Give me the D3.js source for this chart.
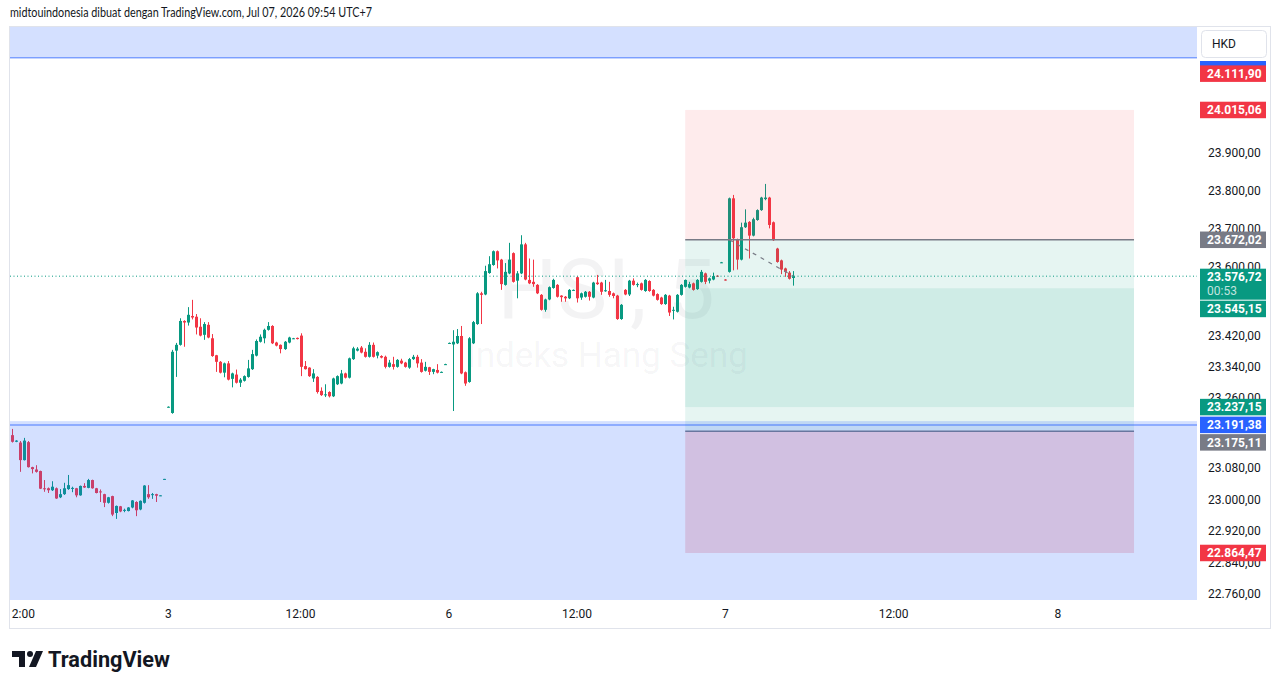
<!DOCTYPE html>
<html><head><meta charset="utf-8">
<script src="https://cdn.jsdelivr.net/npm/d3@7"></script>
<style>html,body{margin:0;padding:0;background:#fff;}svg{display:block;}</style>
</head><body>
<svg id="chart" width="1281" height="688"></svg>
<script>
// ---------------- DATA ----------------
// 5-minute bars, index 0 = first visible bar (Jul 2 afternoon)
const opens = [
23165,23148,23146,23101,23147,23083,23077,23073,23029,23029,23024,23029,23006,23014,23027,23029,23029,23011,23035,23030,
23050,23029,23021,23014,22992,23009,22966,22983,22972,22971,22980,22994,22975,22992,23014,23012,23014,23010,23052,23237,
23222,23383,23398,23460,23456,23473,23471,23445,23424,23450,23415,23371,23354,23326,23350,23310,23321,23300,23305,23315,
23335,23370,23406,23415,23437,23447,23404,23398,23387,23404,23414,23416,23422,23343,23339,23311,23315,23279,23268,23276,
23265,23296,23298,23324,23313,23361,23383,23391,23380,23367,23398,23370,23369,23367,23341,23348,23341,23357,23352,23339,
23361,23367,23352,23331,23340,23328,23333,23327,23347,23402,23399,23402,23421,23327,23302,23402,23452,23532,23529,23585,
23606,23642,23620,23554,23584,23637,23565,23584,23660,23567,23562,23554,23528,23489,23516,23546,23554,23526,23523,23519,
23540,23574,23521,23523,23536,23521,23560,23560,23538,23538,23532,23526,23465,23541,23529,23565,23555,23558,23538,23564,
23541,23530,23521,23504,23526,23487,23484,23528,23549,23547,23558,23543,23562,23584,23565,23568,23578,23612,23568,23588,
23781,23673,23620,23705,23719,23683,23724,23750,23779,23783,23718,23649,23618,23597,23586,23572];
const highs = [
23181,23152,23150,23158,23150,23084,23088,23074,23050,23031,23047,23031,23027,23043,23063,23033,23030,23036,23042,23053,
23051,23030,23026,23015,23007,23010,22985,22984,22977,22981,22999,22996,22998,23037,23037,23017,23015,23011,23053,23239,
23385,23403,23467,23462,23496,23515,23478,23467,23457,23457,23426,23372,23356,23352,23356,23326,23334,23312,23319,23359,
23385,23412,23425,23440,23457,23449,23406,23399,23408,23419,23416,23417,23428,23356,23340,23335,23317,23288,23296,23278,
23313,23319,23333,23326,23365,23393,23392,23395,23389,23405,23404,23381,23371,23370,23359,23367,23361,23362,23354,23364,
23372,23372,23361,23354,23341,23336,23348,23329,23349,23404,23436,23439,23447,23329,23418,23460,23535,23536,23604,23629,
23644,23644,23622,23611,23664,23639,23590,23684,23664,23623,23620,23556,23530,23518,23550,23570,23556,23527,23525,23543,
23542,23576,23534,23538,23538,23562,23580,23562,23567,23562,23534,23528,23504,23543,23567,23571,23560,23560,23569,23566,
23543,23532,23523,23530,23528,23497,23530,23556,23568,23562,23560,23569,23593,23586,23573,23586,23579,23614,23569,23783,
23790,23675,23717,23752,23721,23730,23752,23785,23819,23785,23720,23651,23620,23599,23590,23590];
const lows = [
23146,23147,23071,23100,23082,23067,23069,23027,23020,23017,23022,23002,23004,23012,23025,23019,23006,23010,23030,23029,
23028,23016,22994,22981,22990,22958,22951,22968,22968,22970,22978,22958,22973,22990,23002,23002,22994,23009,23051,23236,
23220,23315,23396,23393,23448,23464,23425,23420,23411,23415,23367,23328,23324,23314,23306,23288,23298,23289,23303,23313,
23333,23368,23404,23402,23435,23400,23394,23376,23385,23402,23413,23412,23317,23334,23315,23302,23272,23266,23263,23262,
23263,23294,23296,23311,23311,23359,23381,23376,23365,23365,23365,23363,23363,23337,23339,23334,23339,23348,23339,23336,
23359,23339,23326,23329,23320,23322,23324,23326,23346,23401,23227,23400,23322,23292,23300,23400,23450,23452,23527,23583,
23604,23597,23541,23552,23582,23560,23519,23582,23566,23556,23549,23530,23487,23484,23514,23544,23521,23510,23510,23517,
23539,23508,23515,23521,23513,23519,23554,23528,23536,23523,23519,23463,23463,23527,23525,23552,23548,23539,23536,23536,
23524,23513,23502,23502,23473,23464,23482,23526,23547,23545,23539,23541,23560,23556,23558,23566,23575,23611,23565,23586,
23592,23594,23618,23703,23623,23681,23722,23748,23776,23702,23669,23612,23582,23575,23568,23552];
const closes = [
23148,23151,23101,23151,23083,23078,23071,23028,23028,23024,23033,23003,23014,23029,23037,23030,23011,23035,23031,23050,
23029,23017,23019,22992,23006,22962,22984,22970,22974,22980,22998,22973,22997,23036,23006,23014,23010,23011,23053,23238,
23380,23398,23460,23456,23476,23469,23443,23422,23452,23417,23369,23354,23326,23350,23308,23324,23300,23308,23317,23337,
23374,23408,23419,23437,23447,23402,23396,23387,23406,23417,23415,23413,23341,23335,23317,23324,23276,23268,23270,23265,
23311,23317,23324,23313,23363,23389,23388,23378,23367,23398,23367,23379,23365,23341,23352,23341,23359,23350,23341,23361,
23367,23350,23328,23341,23328,23335,23326,23328,23348,23403,23406,23421,23324,23298,23415,23457,23532,23528,23590,23608,
23642,23618,23556,23588,23620,23562,23584,23660,23568,23558,23556,23532,23489,23516,23548,23567,23523,23522,23519,23541,
23541,23519,23532,23536,23523,23560,23556,23536,23540,23528,23525,23465,23502,23529,23565,23554,23556,23541,23567,23538,
23526,23515,23504,23528,23482,23489,23528,23554,23567,23556,23541,23567,23588,23562,23571,23577,23576,23613,23566,23781,
23676,23620,23705,23717,23683,23726,23750,23783,23783,23711,23671,23614,23594,23588,23570,23576.72];

// price axis tick labels
const priceTicks = [23900, 23800, 23700, 23600, 23420, 23340, 23260, 23080, 23000, 22920, 22840, 22760];
// time axis labels and the bar index they sit on
const timeLabels = ["12:00", "3", "12:00", "6", "12:00", "7", "12:00", "8"];
const timeIndex  = [2, 39, 72, 109, 141, 178, 220, 261];

// drawings: short position A, long position B
const posStartIdx = 168, posEndIdx = 280;
const posA = {entry: 23672.02, stop: 24015.06, target: 23237.15};
const posB = {entry: 23175.11, stop: 22864.47, target: 23545.15};
const tradeFromIdx = 179;
// blue zones (rectangles) and horizontal lines
const zoneTopLow = 24154.6;       // upper zone bottom edge (zone extends above view)
const zoneBottomHigh = 23201;     // lower zone top edge (zone extends below view)
const hLineValue = 23191.38;
const lastPrice = 23576.72;
const countdown = "00:53";
// price scale badges
const badgeValues = [24111.90, 24015.06, 23672.02, 23545.15, 23237.15, 23191.38, 23175.11, 22864.47];
const badgeKinds  = ["stop", "stop", "entry", "target", "target", "line", "entry", "stop"];

// ---------------- LAYOUT ----------------
const svg = d3.select("#chart");
const W = 1281, H = 688;
const pane = {x0: 10, x1: 1197, y0: 27, y1: 600};
const green = "#089981", red = "#f23645", blue = "#2962ff", gray = "#787b86", txt = "#131722";
const font = "Roboto, 'Liberation Sans', sans-serif";
const fmt = d3.formatLocale({decimal: ",", thousands: ".", grouping: [3], currency: ["", ""]}).format(",.2f");

const y = d3.scaleLog().domain([22760, 23900]).range([594.3, 153.3]);
const x = d3.scaleLinear().domain([40, 179]).range([172.3, 729.3]);

svg.append("rect").attr("width", W).attr("height", H).attr("fill", "#fff");

const defs = svg.append("defs");
defs.append("clipPath").attr("id", "paneClip").append("rect")
  .attr("x", pane.x0).attr("y", pane.y0).attr("width", pane.x1 - pane.x0).attr("height", pane.y1 - pane.y0);
defs.append("clipPath").attr("id", "timeClip").append("rect")
  .attr("x", pane.x0).attr("y", pane.y1).attr("width", pane.x1 - pane.x0).attr("height", 28);

const g = svg.append("g").attr("clip-path", "url(#paneClip)");

// watermark
g.append("text").attr("x", 606).attr("y", 318).attr("text-anchor", "middle")
  .attr("font-family", font).attr("font-size", 84).attr("fill", "rgba(19,23,34,0.05)").text("HSI, 5");
g.append("text").attr("x", 607).attr("y", 367).attr("text-anchor", "middle")
  .attr("font-family", font).attr("font-size", 35).attr("fill", "rgba(19,23,34,0.05)").text("Indeks Hang Seng");

// candles
const bars = d3.range(opens.length).map(i => ({i, o: opens[i], h: highs[i], l: lows[i], c: closes[i]}));
const cg = g.append("g");
cg.selectAll("line.wick").data(bars).join("line")
  .attr("x1", d => Math.round(x(d.i)) + 0.5).attr("x2", d => Math.round(x(d.i)) + 0.5)
  .attr("y1", d => y(d.h)).attr("y2", d => y(d.l))
  .attr("stroke", d => d.c >= d.o ? green : red).attr("stroke-width", 1);
cg.selectAll("rect.body").data(bars).join("rect")
  .attr("x", d => Math.round(x(d.i)) - 1).attr("width", 3)
  .attr("y", d => Math.min(y(d.o), y(d.c)))
  .attr("height", d => Math.max(1, Math.abs(y(d.o) - y(d.c))))
  .attr("fill", d => d.c >= d.o ? green : red);

// position tools
const px0 = x(posStartIdx), px1 = x(posEndIdx);
function box(v1, v2, fill) {
  g.append("rect").attr("x", px0).attr("width", px1 - px0)
    .attr("y", y(Math.max(v1, v2))).attr("height", Math.abs(y(v1) - y(v2))).attr("fill", fill);
}
box(posA.entry, posA.stop, "rgba(242,54,69,0.1)");
box(posA.entry, posA.target, "rgba(8,153,129,0.1)");
box(posB.entry, posB.target, "rgba(8,153,129,0.1)");
box(posB.entry, posB.stop, "rgba(242,54,69,0.2)");
[posA.entry, posB.entry].forEach(v => {
  g.append("line").attr("x1", px0).attr("x2", px1).attr("y1", y(v)).attr("y2", y(v))
    .attr("stroke", gray).attr("stroke-width", 1.5);
});
g.append("line").attr("x1", x(tradeFromIdx)).attr("y1", y(posA.entry))
  .attr("x2", x(opens.length - 1)).attr("y2", y(lastPrice))
  .attr("stroke", gray).attr("stroke-width", 1.2).attr("stroke-dasharray", "4 5");

// blue zones
g.append("rect").attr("x", pane.x0).attr("width", pane.x1 - pane.x0)
  .attr("y", pane.y0).attr("height", y(zoneTopLow) - pane.y0).attr("fill", "rgba(41,98,255,0.2)");
g.append("line").attr("x1", pane.x0).attr("x2", pane.x1).attr("y1", y(zoneTopLow)).attr("y2", y(zoneTopLow))
  .attr("stroke", "rgba(41,98,255,0.55)").attr("stroke-width", 1.5);
g.append("rect").attr("x", pane.x0).attr("width", pane.x1 - pane.x0)
  .attr("y", y(zoneBottomHigh)).attr("height", pane.y1 - y(zoneBottomHigh)).attr("fill", "rgba(41,98,255,0.2)");
g.append("line").attr("x1", pane.x0).attr("x2", pane.x1).attr("y1", y(hLineValue)).attr("y2", y(hLineValue))
  .attr("stroke", "rgba(41,98,255,0.55)").attr("stroke-width", 1.5);

// last price dotted line
g.append("line").attr("x1", pane.x0).attr("x2", pane.x1).attr("y1", y(lastPrice)).attr("y2", y(lastPrice))
  .attr("stroke", green).attr("stroke-width", 1).attr("stroke-dasharray", "1 2.5");

// ---------------- PRICE AXIS ----------------
const ax = svg.append("g");
ax.selectAll("text.tick").data(priceTicks).join("text")
  .attr("x", 1208).attr("y", d => y(d) + 4)
  .attr("font-family", font).attr("font-size", 12).attr("fill", txt).text(d => fmt(d));

// HKD box
ax.append("rect").attr("x", 1201.5).attr("y", 30.5).attr("width", 65).attr("height", 27).attr("rx", 4)
  .attr("fill", "#fff").attr("stroke", "#e0e3eb");
ax.append("text").attr("x", 1212).attr("y", 48).attr("font-family", font).attr("font-size", 12)
  .attr("fill", txt).text("HKD");

const kindColor = {stop: red, entry: gray, target: green, line: blue};
const bh = 16.5;
// blue zone badge (mostly hidden)
ax.append("rect").attr("x", 1200).attr("y", 61).attr("width", 66).attr("height", bh).attr("fill", blue);

// current price badge
const cy = y(lastPrice);
ax.append("rect").attr("x", 1200).attr("y", cy - 7.5).attr("width", 66).attr("height", 31).attr("fill", green);
ax.append("text").attr("x", 1207).attr("y", cy + 4.5).attr("font-family", font).attr("font-size", 12)
  .attr("font-weight", 700).attr("fill", "#fff").text(fmt(lastPrice));
ax.append("text").attr("x", 1207).attr("y", cy + 19).attr("font-family", font).attr("font-size", 12)
  .attr("fill", "rgba(255,255,255,0.75)").text(countdown);

// other badges with simple collision handling
let prevBottom = -1e9;
badgeValues.forEach((v, k) => {
  let c = y(v);
  if (v === posB.target) prevBottom = cy + 23.5;
  if (k > 0 && badgeValues[k - 1] < 24100 && c - bh / 2 < prevBottom + 1 && v < 24000) c = prevBottom + 1 + bh / 2;
  prevBottom = c + bh / 2;
  ax.append("rect").attr("x", 1200).attr("y", c - bh / 2).attr("width", 66).attr("height", bh)
    .attr("fill", kindColor[badgeKinds[k]]);
  ax.append("text").attr("x", 1207).attr("y", c + 4.3).attr("font-family", font).attr("font-size", 12)
    .attr("font-weight", 700).attr("fill", "#fff").text(fmt(v));
});

// ---------------- TIME AXIS ----------------
svg.append("g").attr("clip-path", "url(#timeClip)").selectAll("text").data(timeLabels).join("text")
  .attr("x", (d, k) => x(timeIndex[k])).attr("y", 618).attr("text-anchor", "middle")
  .attr("font-family", font).attr("font-size", 12).attr("fill", txt).text(d => d);

// frame
svg.append("rect").attr("x", 9.5).attr("y", 26.5).attr("width", 1261).attr("height", 602)
  .attr("fill", "none").attr("stroke", "#e0e3eb");

// header
svg.append("text").attr("x", 10).attr("y", 17).attr("font-family", "Lato, " + font).attr("font-size", 13)
  .attr("fill", txt).attr("textLength", 362).attr("lengthAdjust", "spacingAndGlyphs")
  .text("midtouindonesia dibuat dengan TradingView.com, Jul 07, 2026 09:54 UTC+7");

// logo
const logo = svg.append("g").attr("fill", txt);
logo.append("path").attr("d", "M12 651 H25 V667 H19 V657 H12 Z");
logo.append("circle").attr("cx", 30).attr("cy", 654).attr("r", 3);
logo.append("path").attr("d", "M36 651 H43 L36 667 H29 Z");
logo.append("text").attr("x", 48).attr("y", 667).attr("font-family", font).attr("font-weight", 700)
  .attr("font-size", 21.5).attr("textLength", 122).attr("lengthAdjust", "spacingAndGlyphs").text("TradingView");
</script>
</body></html>
